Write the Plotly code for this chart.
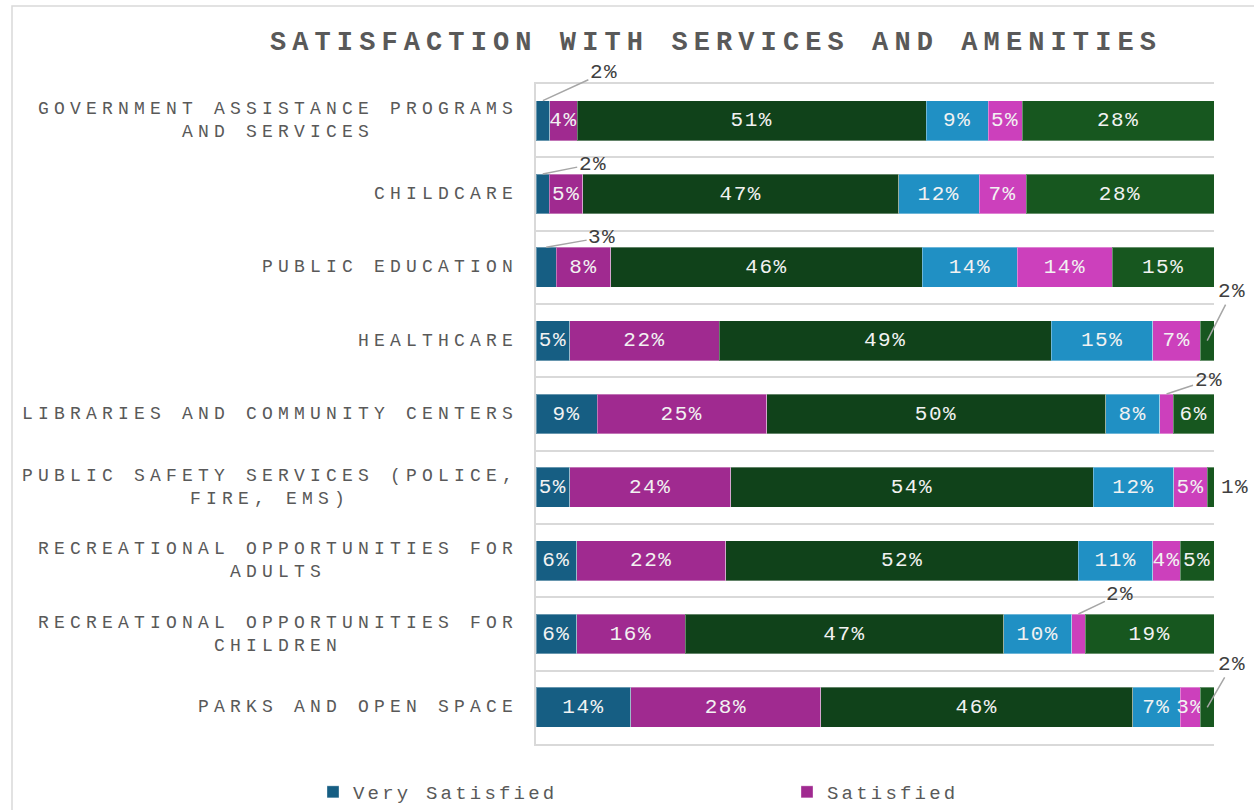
import plotly.graph_objects as go

# ---- data ---------------------------------------------------------------
categories = [
    "GOVERNMENT ASSISTANCE PROGRAMS<br>AND SERVICES",
    "CHILDCARE",
    "PUBLIC EDUCATION",
    "HEALTHCARE",
    "LIBRARIES AND COMMUNITY CENTERS",
    "PUBLIC SAFETY SERVICES (POLICE,<br>FIRE, EMS)",
    "RECREATIONAL OPPORTUNITIES FOR<br>ADULTS",
    "RECREATIONAL OPPORTUNITIES FOR<br>CHILDREN",
    "PARKS AND OPEN SPACE",
]

series_names = [
    "Very Satisfied",
    "Satisfied",
    "Neutral",
    "Dissatisfied",
    "Very Dissatisfied",
    "Don't Know",
]

very_satisfied = [2, 2, 3, 5, 9, 5, 6, 6, 14]
satisfied = [4, 5, 8, 22, 25, 24, 22, 16, 28]
neutral = [51, 47, 46, 49, 50, 54, 52, 47, 46]
dissatisfied = [9, 12, 14, 15, 8, 12, 11, 10, 7]
very_dissatisfied = [5, 7, 14, 7, 2, 5, 4, 2, 3]
dont_know = [28, 28, 15, 2, 6, 1, 5, 19, 2]

series_values = [very_satisfied, satisfied, neutral,
                 dissatisfied, very_dissatisfied, dont_know]

series_colors = ["#165E83", "#A02A90", "#10421A", "#2090C4", "#CC40BC", "#17571F"]

# only the first legend row fits on the canvas
legend_shown = [True, True, False, False, False, False]

TITLE = "SATISFACTION WITH SERVICES AND AMENITIES"

# small segments labelled outside the bar: (row, series, dx, dy, attach)
callouts = [
    (0, 0, 61, -28, "top"),
    (1, 0, 50, -10, "top"),
    (2, 0, 56, -10, "top"),
    (3, 5, 25, -49, "mid"),
    (4, 4, 42, -14, "top"),
    (5, 5, 24, 0, "none"),
    (7, 4, 42, -20, "top"),
    (8, 5, 25, -43, "mid"),
]

# ---- geometry / style ---------------------------------------------------
W, H = 1254, 810
M_L, M_R, M_T, M_B = 536, 40, 84, 66
PLOT_W = W - M_L - M_R
PLOT_H = H - M_T - M_B
BARGAP = 0.455
HALF_BAR = (1 - BARGAP) / 2

MONO = "Liberation Mono"
GREY = "#595959"
GRID = "#D9D9D9"
LABEL_SIZE = 21


def px_x(px):
    return (px - M_L) / PLOT_W


def px_y(py):
    return (H - M_B - py) / PLOT_H


def spaced(text, px):
    return "<br>".join(
        f"<span style='letter-spacing:{px}px'>{line}</span>" for line in text.split("<br>")
    )


def seg_mid(row, s):
    vals = [sv[row] for sv in series_values]
    return (sum(vals[:s]) + vals[s] / 2) / sum(vals) * 100


outside = {(r, s) for r, s, *_ in callouts}

fig = go.Figure()
for s, (name, vals, color) in enumerate(zip(series_names, series_values, series_colors)):
    labels = ["" if (r, s) in outside else spaced(f"{v}%", 1.5) for r, v in enumerate(vals)]
    fig.add_trace(go.Bar(
        name=spaced(name, 3.2),
        y=categories,
        x=vals,
        orientation="h",
        marker=dict(color=color, line=dict(color="rgba(255,255,255,0.35)", width=1)),
        text=labels,
        textposition="inside",
        insidetextanchor="middle",
        textangle=0,
        textfont=dict(family=MONO, size=LABEL_SIZE, color="#F2F2F2"),
        hovertemplate=f"{name}: %{{x}}%<extra></extra>",
        showlegend=legend_shown[s],
    ))

annotations = []
# category labels, centred line by line
for cat in categories:
    annotations.append(dict(
        xref="paper", yref="y", x=0, y=cat, xanchor="right", xshift=-16,
        text=spaced(cat, 5.2), align="center", showarrow=False,
        font=dict(family=MONO, size=18, color=GREY),
    ))

# outside labels with leader lines
for row, s, dx, dy, attach in callouts:
    val = series_values[s][row]
    ann = dict(
        xref="x", yref="y", x=seg_mid(row, s),
        text=spaced(f"{val}%", 1.5),
        font=dict(family=MONO, size=LABEL_SIZE, color="#404040"),
    )
    if attach == "none":
        ann.update(y=row, showarrow=False, xshift=dx)
    else:
        ann.update(
            y=row - HALF_BAR if attach == "top" else row,
            showarrow=True, arrowhead=0, arrowwidth=1.5, arrowcolor="#A6A6A6",
            ax=dx, ay=dy, standoff=0,
        )
    annotations.append(ann)

fig.update_layout(
    width=W, height=H,
    margin=dict(l=M_L, r=M_R, t=M_T, b=M_B, autoexpand=False),
    paper_bgcolor="white", plot_bgcolor="white",
    barmode="stack", barnorm="percent", bargap=BARGAP,
    uniformtext=dict(minsize=LABEL_SIZE, mode="show"),
    title=dict(
        text=spaced(TITLE, 6.1),
        font=dict(family=MONO, size=27, color=GREY, weight="bold"),
        xref="container", yref="container",
        x=716 / W, y=1 - 41 / H, xanchor="center", yanchor="middle",
    ),
    xaxis=dict(
        range=[0, 100], fixedrange=True,
        showticklabels=False, ticks="", showgrid=False, zeroline=False,
        showline=True, mirror=True, linecolor=GRID, linewidth=2,
    ),
    yaxis=dict(
        type="category", categoryorder="array", categoryarray=categories,
        range=[len(categories) - 0.5, -0.5], autorange=False,
        tickson="boundaries",
        showgrid=True, gridcolor=GRID, gridwidth=2,
        showline=True, linecolor=GRID, linewidth=1.5,
        showticklabels=False, ticks="", zeroline=False, fixedrange=True,
    ),
    legend=dict(
        orientation="h", xref="paper", yref="paper",
        x=px_x(320), y=px_y(773), xanchor="left", yanchor="top",
        entrywidth=436, entrywidthmode="pixels", indentation=-7,
        font=dict(family=MONO, size=19, color=GREY),
        traceorder="normal",
    ),
    annotations=annotations,
    shapes=[dict(
        type="rect", xref="paper", yref="paper", layer="below",
        x0=px_x(12), x1=px_x(1262), y0=px_y(818), y1=px_y(6),
        line=dict(color=GRID, width=1.5), fillcolor="rgba(0,0,0,0)",
    )],
    showlegend=True,
)

fig.write_html("out.html")
